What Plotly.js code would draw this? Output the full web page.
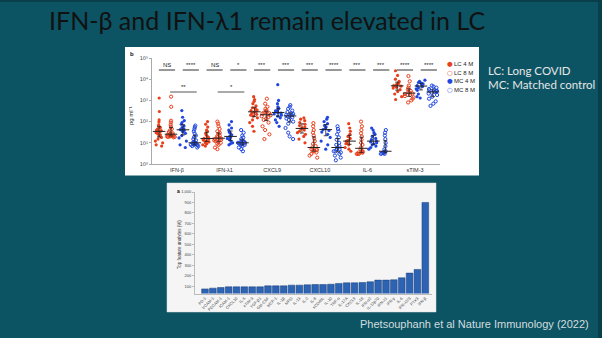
<!DOCTYPE html>
<html><head><meta charset="utf-8">
<script src="https://cdn.plot.ly/plotly-3.0.1.min.js"></script>
<style>html,body{margin:0;padding:0;background:#0c5463;overflow:hidden}#chart{width:602px;height:338px}</style>
</head><body><div id="chart"></div>
<script>
// ---------- data: panel b (pg/ml) ----------
const analytes = ['IFN-β','IFN-λ1','CXCL9','CXCL10','IL-6','sTIM-3'];
const groupNames = ['LC 4 M','LC 8 M','MC 4 M','MC 8 M'];
const lc4m = [
  [1300,300,120,95,70,60,52,45,40,38,36,33,30,27,24,21,18,15,12,10,8,7],
  [100,75,55,40,35,28,24,20,18,16,15,14,13,12,11,10,9,8,7],
  [1500,1100,900,700,550,450,400,350,330,300,280,250,220,200,180,150,120,90,60,35],
  [150,130,110,90,75,65,55,50,45,40,35,30,25,20,15,10],
  [80,50,35,25,20,16,13,12,11,10,9,8,6,5,4],
  [25000,15000,10000,8000,7000,6000,5500,5000,4700,4200,3800,3200,2600,2000,1500,1100]
];
const lc8m = [
  [1500,500,110,90,70,55,45,38,32,28,26,25,24,23,22,21,21,20,20,19,19,18],
  [100,80,60,45,35,30,26,22,20,18,17,16,15,14,13,12,11,10,9,8,6,5],
  [1200,700,500,400,340,300,270,250,240,220,200,180,160,140,120,90,60,40,25,15],
  [85,60,40,30,22,16,12,9,7,6,5,5,4.5,4,4,3.5,3,2.5,2],
  [100,60,40,28,20,14,10,8,6,5,4,4,3.5,3.5,3.5,3,3,3],
  [14000,8000,5000,4000,3300,2800,2500,2300,2100,2000,1800,1600,1400,1200,1000,800]
];
const mc4m = [
  [330,160,110,90,75,62,52,46,42,40,38,33,28,22,17,12,8,6],
  [100,70,50,40,32,28,24,20,18,16,14,12,10,9,8],
  [5500,1000,700,500,420,360,320,290,270,250,230,200,180,150,120,90,60],
  [160,130,100,80,65,55,48,42,38,32,25,18,12,8,5],
  [50,40,30,25,20,16,14,12,11,10,9,8,7,6,5],
  [9000,8000,7000,6500,6000,5500,5000,4500,4000,3500,3000,2000,1500,1300]
];
const mc8m = [
  [65,55,45,35,28,22,18,15,13,11,10,10,9,9,9,8,8,8,7,7,6],
  [40,30,22,18,15,13,12,11,10,10,10,9,9,8,8,7,6,5,4],
  [600,500,400,330,280,250,230,210,200,190,180,160,140,120,100,80,50,30,20,15],
  [60,45,35,25,18,14,10,8,7,6,5,5,4,4,3.5,3,2.5,2,1.5],
  [40,30,22,15,10,7,5,4,3.8,3.5,3.5,3.3,3.2,3,3],
  [5000,4500,4000,3500,3200,3000,2800,2700,2500,2300,2100,1800,1500,1200,900,700,550]
];
const sigTop = [['NS','****'],['NS','*'],['***','***'],['***','****'],['***','***'],['****','****']];
const sigCross = ['**','*'];   // LC 8 M vs MC 8 M for IFN-β, IFN-λ1
const yTickVals = [1,10,100,1000,10000,100000];
const yTickText = ['10⁰','10¹','10²','10³','10⁴','10⁵'];

// ---------- data: panel a ----------
const barLabels = ['PD-1','VCAM-1','PECAM-1','ICAM-1','CXCL10','IL-5','sTIM-3','TGF-β1','GM-CSF','MCP-1','IL-1β','MPO','IL-13','IL-2','IL-8','sCD40L','IL-10','TNF-α','IL-17A','CXCL9','IL-18','IFN-α2','IL-12p70','IFN-λ1','IFN-γ','IL-6','IFN-λ2/3','PTX3','IFN-β'];
const barValues = [74,81,87,94,94,94,94,94,103,103,103,110,110,113,116,116,119,126,132,132,135,142,158,158,161,180,225,260,900];

// ---------- layout helpers ----------
const W = 602, H = 338;
const px = v => v / W;
const py = v => 1 - v / H;
const XB = [152, 440], XR = [-0.525, 5.525];          // panel b x-axis pixel span and range
const bx = v => px(XB[0] + (v - XR[0]) / (XR[1] - XR[0]) * (XB[1] - XB[0]));
const RED = '#e8401c', BLUE = '#1f47e0';
const groups = [
  {d: lc4m, c: RED, sym: 'circle'},
  {d: lc8m, c: RED, sym: 'circle-open'},
  {d: mc4m, c: BLUE, sym: 'circle'},
  {d: mc8m, c: BLUE, sym: 'circle-open'}
];
const offs = [-0.375, -0.125, 0.125, 0.375];

function quant(arr, q) {
  const s = arr.slice().sort((a, b) => a - b);
  const p = (s.length - 1) * q, lo = Math.floor(p), hi = Math.ceil(p);
  return s[lo] + (s[hi] - s[lo]) * (p - lo);
}

const traces = [];
groups.forEach((g, gi) => {
  const xs = [], ys = [];
  g.d.forEach((vals, ai) => vals.forEach(v => { xs.push(ai + offs[gi]); ys.push(v); }));
  traces.push({
    type: 'box', x: xs, y: ys, xaxis: 'x', yaxis: 'y',
    boxpoints: 'all', jitter: 1, pointpos: 0, width: 0.2,
    line: {width: 0, color: 'rgba(0,0,0,0)'}, fillcolor: 'rgba(0,0,0,0)',
    marker: {color: g.c, size: 3.2, symbol: g.sym, line: {width: g.sym === 'circle' ? 0 : 1, color: g.c}},
    showlegend: false, hoverinfo: 'skip'
  });
  const mx = [], my = [], up = [], dn = [];
  g.d.forEach((vals, ai) => {
    const m = quant(vals, 0.5), q1 = quant(vals, 0.25), q3 = quant(vals, 0.75);
    mx.push(ai + offs[gi]); my.push(m); up.push(q3 - m); dn.push(m - q1);
  });
  traces.push({
    type: 'scatter', mode: 'markers', x: mx, y: my, xaxis: 'x', yaxis: 'y',
    marker: {symbol: 'line-ew', size: 9, color: '#222', line: {width: 1, color: '#222'}},
    error_y: {type: 'data', symmetric: false, array: up, arrayminus: dn, color: '#222', thickness: 0.8, width: 2},
    showlegend: false, hoverinfo: 'skip'
  });
});

traces.push({
  type: 'bar', x: barLabels, y: barValues, xaxis: 'x2', yaxis: 'y2',
  marker: {color: '#2c63b3', line: {color: '#1a3d78', width: 0.5}},
  showlegend: false, hoverinfo: 'skip'
});

const shapes = [
  {type: 'rect', xref: 'paper', yref: 'paper', x0: 0, x1: 1, y0: py(2), y1: 1, fillcolor: '#093f4b', line: {width: 0}, layer: 'below'},
  {type: 'rect', xref: 'paper', yref: 'paper', x0: px(598), x1: 1, y0: 0, y1: 1, fillcolor: '#093f4b', line: {width: 0}, layer: 'below'},
  {type: 'rect', xref: 'paper', yref: 'paper', x0: px(125), x1: px(479), y0: py(175.5), y1: py(47), fillcolor: '#ffffff', line: {width: 0}, layer: 'below'},
  {type: 'rect', xref: 'paper', yref: 'paper', x0: px(167), x1: px(436), y0: py(312), y1: py(183), fillcolor: '#f5f5f5', line: {color: '#dddddd', width: 0.5}, layer: 'below'}
];
const annotations = [];
const tiny = () => ({family: 'Liberation Sans, Arial, sans-serif', size: 6, color: '#222222'});

sigTop.forEach((pair, ai) => {
  pair.forEach((txt, pi) => {
    const c = ai + (pi === 0 ? -0.25 : 0.25) + 0.04;
    shapes.push({type: 'line', xref: 'paper', yref: 'paper', x0: bx(c - 0.17), x1: bx(c + 0.17), y0: py(70), y1: py(70), line: {color: '#333', width: 1}});
    annotations.push({xref: 'paper', yref: 'paper', x: bx(c), y: py(69.5), xanchor: 'center', yanchor: 'bottom', text: txt, showarrow: false, font: tiny()});
  });
});
sigCross.forEach((txt, ai) => {
  const a = ai + offs[1] - 0.02, b = ai + offs[3] + 0.04;
  shapes.push({type: 'line', xref: 'paper', yref: 'paper', x0: bx(a), x1: bx(b), y0: py(92), y1: py(92), line: {color: '#555', width: 1}});
  annotations.push({xref: 'paper', yref: 'paper', x: bx((a + b) / 2), y: py(91.5), xanchor: 'center', yanchor: 'bottom', text: txt, showarrow: false, font: tiny()});
});

const legSym = ['●', '○', '●', '○'];
groupNames.forEach((n, i) => {
  const yy = py(64 + i * 8.7);
  annotations.push({xref: 'paper', yref: 'paper', x: px(445), y: yy, xanchor: 'left', yanchor: 'middle',
    text: legSym[i], showarrow: false, font: {family: 'DejaVu Sans, sans-serif', size: 6.5, color: groups[i].c}});
  annotations.push({xref: 'paper', yref: 'paper', x: px(452), y: yy, xanchor: 'left', yanchor: 'middle',
    text: n, showarrow: false, font: tiny()});
});

annotations.push(
  {xref: 'paper', yref: 'paper', x: px(128), y: py(54), xanchor: 'left', yanchor: 'middle', text: 'b', showarrow: false, font: {family: 'Liberation Sans, Arial', size: 6, color: '#111', weight: 'bold'}},
  {xref: 'paper', yref: 'paper', x: px(131), y: py(116), xanchor: 'center', yanchor: 'middle', textangle: -90, text: 'pg ml⁻¹', showarrow: false, font: tiny()},
  {xref: 'paper', yref: 'paper', x: px(175), y: py(191), xanchor: 'left', yanchor: 'middle', text: 'a', showarrow: false, font: {family: 'Liberation Sans, Arial', size: 5, color: '#111', weight: 'bold'}},
  {xref: 'paper', yref: 'paper', x: px(179), y: py(245), xanchor: 'center', yanchor: 'middle', textangle: -90, text: 'Top feature analytes (%)', showarrow: false, font: {family: 'Liberation Sans, Arial', size: 4.5, color: '#333'}},
  {xref: 'paper', yref: 'paper', x: px(486), y: py(71), xanchor: 'left', yanchor: 'middle', text: 'LC: Long COVID', showarrow: false, font: {family: 'Lato, sans-serif', size: 11.5, color: '#e6e6e6'}},
  {xref: 'paper', yref: 'paper', x: px(486), y: py(84.5), xanchor: 'left', yanchor: 'middle', text: 'MC: Matched control', showarrow: false, font: {family: 'Lato, sans-serif', size: 11.5, color: '#e6e6e6'}},
  {xref: 'paper', yref: 'paper', x: px(591), y: py(324), xanchor: 'right', yanchor: 'middle', text: 'Phetsouphanh et al Nature Immunology (2022)', showarrow: false, font: {family: 'Liberation Sans, Arial, sans-serif', size: 11, color: '#d3dcdf'}}
);

const layout = {
  width: W, height: H, autosize: false,
  margin: {l: 0, r: 0, t: 0, b: 0, pad: 0},
  paper_bgcolor: '#0c5463', plot_bgcolor: 'rgba(0,0,0,0)',
  boxmode: 'overlay', bargap: 0.15,
  title: {text: 'IFN-β and IFN-λ1 remain elevated in LC', x: px(49), xanchor: 'left', xref: 'paper', y: py(21), yanchor: 'middle', yref: 'paper',
    font: {family: 'Lato, sans-serif', size: 25, color: '#111'}},
  xaxis: {domain: [px(XB[0]), px(XB[1])], range: XR, tickvals: [0, 1, 2, 3, 4, 5], ticktext: analytes,
    showline: true, linecolor: '#aaa', linewidth: 1, showgrid: false, zeroline: false, ticks: '',
    tickfont: {family: 'Liberation Sans, Arial', size: 5.5, color: '#333'}, fixedrange: true},
  yaxis: {domain: [py(164), py(58)], type: 'log', range: [0, 5], tickvals: yTickVals, ticktext: yTickText,
    showline: true, linecolor: '#aaa', linewidth: 1, showgrid: false, zeroline: false, ticks: 'outside', ticklen: 2, tickcolor: '#aaa',
    tickfont: {family: 'DejaVu Sans, sans-serif', size: 5, color: '#444'}, fixedrange: true},
  xaxis2: {domain: [px(195), px(432)], anchor: 'y2', type: 'category', range: [-1.27, 28.85], tickangle: -45,
    showline: true, linecolor: '#bbb', linewidth: 1, showgrid: false, zeroline: false, ticks: '',
    tickfont: {family: 'Liberation Sans, Arial', size: 4, color: '#444'}, fixedrange: true},
  yaxis2: {domain: [py(293.5), py(192)], anchor: 'x2', range: [30, 1000], tickvals: [100,200,300,400,500,600,700,800,900,1000], tickformat: ',',
    showline: true, linecolor: '#bbb', linewidth: 1, showgrid: false, zeroline: false, ticks: 'outside', ticklen: 2, tickcolor: '#bbb',
    tickfont: {family: 'Liberation Sans, Arial', size: 4, color: '#444'}, fixedrange: true},
  shapes: shapes, annotations: annotations, showlegend: false
};

Plotly.newPlot('chart', traces, layout, {displayModeBar: false, staticPlot: true});
</script></body></html>
